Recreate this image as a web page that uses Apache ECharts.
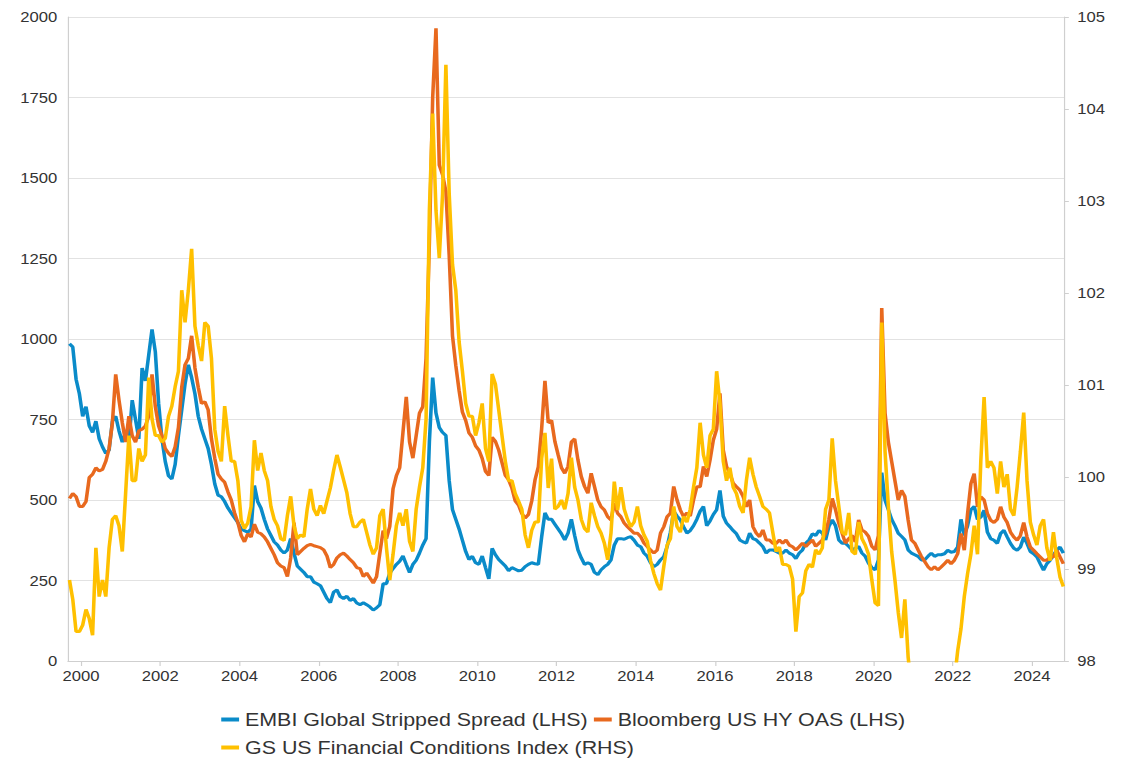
<!DOCTYPE html>
<html>
<head>
<meta charset="utf-8">
<title>EMBI spread, US HY OAS and GS FCI</title>
<script src="https://cdn.jsdelivr.net/npm/echarts@6/dist/echarts.min.js"></script>
<style>
  html, body { margin: 0; padding: 0; background: #fff; overflow: hidden; }
  /* the source picture is stretched sideways, so the chart is drawn narrower and widened */
  #chart { width: 947px; height: 762px; transform: scaleX(1.1901); transform-origin: 0 0; }
</style>
</head>
<body>
<div id="chart"></div>
<script>
// monthly readings, first point = Sep 1999, last = Oct 2024
const firstMonth = 1999 * 12 + 8;

// EMBI Global stripped spread, bp (LHS)
const embi = [
  985, 975, 875, 830,
  760, 790, 730, 710, 745, 690, 665, 645, 655, 745, 760, 715,
  680, 710, 680, 810, 750, 690, 910, 870, 950, 1030, 960, 800,
  690, 620, 575, 565, 610, 700, 780, 860, 920, 880, 830, 760,
  720, 690, 660, 610, 550, 515, 510, 495, 475, 460, 445, 430,
  410, 405, 400, 410, 545, 495, 475, 440, 410, 390, 370, 360,
  345, 335, 345, 380, 335, 295, 285, 275, 262, 262, 245, 240,
  234, 214, 194, 181, 214, 221, 200, 194, 201, 188, 194, 180,
  175, 181, 175, 168, 158, 165, 175, 240, 240, 273, 287, 300,
  310, 326, 300, 275, 300, 313, 335, 360, 380, 680, 880, 770,
  725, 710, 700, 560, 470, 440, 410, 375, 340, 315, 325, 305,
  300, 326, 290, 255, 350, 330, 315, 305, 295, 280, 290, 285,
  280, 282, 293, 300, 305, 302, 300, 385, 460, 440, 440, 425,
  410, 395, 376, 397, 440, 390, 345, 320, 300, 305, 300, 275,
  268, 283, 293, 300, 314, 360, 380, 380, 378, 383, 386, 375,
  360, 355, 335, 325, 305, 293, 300, 314, 324, 355, 400, 465,
  450, 438, 417, 397, 405, 420, 440, 465, 480, 420, 435, 455,
  470, 530, 450, 428, 417, 405, 395, 376, 370, 366, 397, 380,
  376, 366, 355, 335, 345, 345, 340, 335, 335, 345, 335, 330,
  318, 335, 345, 366, 376, 395, 390, 405, 397, 376, 418, 438,
  420, 376, 366, 366, 356, 345, 350, 356, 335, 325, 304, 290,
  283, 314, 585, 500, 470, 440, 420, 397, 387, 376, 345, 335,
  330, 325, 314, 314, 325, 335, 325, 330, 330, 333, 344, 338,
  340, 354, 440, 390, 420, 470, 480, 440, 447, 468, 400, 380,
  375, 365, 396, 406, 385, 365, 350, 344, 354, 385, 365, 340,
  333, 323, 302, 282, 302, 313, 330, 344, 354, 335
];

// Bloomberg US HY OAS, bp (LHS)
const hyOas = [
  505, 520, 510, 480,
  480, 495, 570, 580, 600, 590, 595, 620, 660, 740, 890, 810,
  740, 680, 760, 700, 680, 715, 720, 730, 760, 890, 790, 730,
  700, 660, 645, 635, 665, 725, 850, 920, 940, 1010, 910, 850,
  800, 805, 780, 690, 630, 580, 565, 555, 525, 500, 460, 430,
  390, 370, 395, 385, 425, 400, 395, 385, 370, 350, 330, 305,
  295, 290, 262, 320, 430, 330, 340, 350, 358, 362, 358, 355,
  352, 345, 326, 290, 300, 320, 330, 335, 326, 315, 305, 290,
  287, 262, 273, 258, 242, 262, 335, 405, 380, 418, 535, 575,
  600, 710, 820, 680, 630, 700, 770, 790, 940, 1300, 1750, 1965,
  1540, 1510, 1458, 1260, 1010, 918, 840, 773, 747, 708, 695, 668,
  655, 629, 589, 576, 695, 682, 655, 616, 576, 563, 537, 497,
  484, 458, 444, 455, 497, 563, 603, 721, 870, 740, 747, 682,
  640, 600, 583, 604, 680, 690, 624, 573, 542, 521, 583, 542,
  500, 479, 469, 448, 438, 490, 459, 448, 428, 417, 407, 397,
  397, 386, 366, 355, 345, 335, 345, 397, 417, 448, 459, 542,
  500, 469, 448, 460, 450, 500, 541, 541, 604, 573, 624, 686,
  720, 831, 655, 604, 583, 552, 541, 531, 511, 479, 500, 417,
  397, 386, 407, 376, 376, 366, 365, 376, 366, 376, 360, 355,
  345, 355, 366, 355, 366, 376, 356, 366, 376, 397, 440, 505,
  470, 428, 397, 366, 380, 390, 370, 438, 407, 400, 387, 356,
  345, 390, 1096, 770, 680, 620, 560, 500, 530, 511, 438, 376,
  366, 345, 325, 309, 293, 283, 293, 283, 292, 302, 313, 302,
  313, 333, 396, 344, 458, 551, 582, 479, 510, 500, 458, 437,
  430, 440, 479, 447, 430, 400, 385, 375, 390, 430, 385, 354,
  344, 333, 323, 313, 313, 323, 323, 344, 323, 302
];

// GS US Financial Conditions Index (RHS)
const gsFci = [
  98.88, 98.67, 98.32, 98.32,
  98.39, 98.56, 98.46, 98.28, 99.23, 98.70, 98.88, 98.70, 99.23, 99.54, 99.58, 99.47,
  99.19, 99.82, 100.45, 99.96, 99.96, 100.31, 100.17, 100.24, 101.08, 100.63, 100.45, 100.45,
  100.38, 100.42, 100.66, 100.77, 100.98, 101.15, 102.03, 101.68, 102.03, 102.48, 101.64, 101.43,
  101.26, 101.68, 101.64, 101.29, 100.52, 100.28, 100.17, 100.77, 100.45, 100.17, 100.17, 99.96,
  99.53, 99.44, 99.50, 99.68, 100.40, 100.07, 100.26, 100.07, 99.96, 99.68, 99.54, 99.47,
  99.33, 99.31, 99.58, 99.79, 99.47, 99.33, 99.37, 99.35, 99.65, 99.87, 99.65, 99.58,
  99.69, 99.60, 99.74, 99.88, 100.07, 100.24, 100.11, 99.97, 99.83, 99.60, 99.46, 99.46,
  99.51, 99.54, 99.40, 99.26, 99.16, 99.23, 99.58, 99.65, 99.23, 98.88, 99.16, 99.47,
  99.61, 99.47, 99.65, 99.30, 99.19, 99.65, 99.89, 100.10, 100.63, 102.90, 103.95, 102.90,
  102.38, 103.08, 104.48, 103.08, 102.31, 102.03, 101.47, 101.15, 100.80, 100.66, 100.66, 100.45,
  100.59, 100.80, 100.31, 100.17, 101.12, 101.01, 100.73, 100.45, 100.17, 99.96, 99.96, 99.82,
  99.74, 99.65, 99.37, 99.23, 99.42, 99.51, 99.51, 100.20, 100.48, 99.88, 100.20, 99.65,
  99.68, 99.75, 99.65, 99.82, 100.21, 99.89, 99.75, 99.54, 99.44, 99.40, 99.72, 99.58,
  99.46, 99.39, 99.28, 99.10, 99.39, 99.95, 99.64, 99.89, 99.65, 99.54, 99.46, 99.51,
  99.68, 99.47, 99.37, 99.30, 99.09, 98.95, 98.84, 98.77, 99.03, 99.26, 99.33, 99.68,
  99.46, 99.40, 99.57, 99.51, 99.65, 99.89, 100.10, 100.59, 100.24, 100.10, 100.45, 100.52,
  101.15, 100.80, 100.17, 99.96, 100.10, 99.89, 99.82, 99.68, 99.61, 99.96, 100.21, 100.03,
  99.89, 99.79, 99.68, 99.65, 99.61, 99.40, 99.19, 99.24, 99.05, 99.05, 99.03, 98.89,
  98.32, 98.70, 98.74, 98.98, 99.05, 99.02, 99.21, 99.16, 99.23, 99.65, 99.75, 100.42,
  99.96, 99.68, 99.40, 99.37, 99.61, 99.19, 99.16, 99.51, 99.33, 99.26, 99.16, 98.88,
  98.63, 98.60, 101.68, 100.28, 99.68, 99.19, 98.88, 98.53, 98.25, 98.67, 98.04, 97.72,
  97.30, 97.13, 96.95, 96.78, 96.78, 96.60, 96.60, 96.67, 96.78, 96.95, 97.13, 97.30,
  97.79, 98.11, 98.35, 98.70, 98.95, 99.16, 99.47, 99.16, 100.17, 100.87, 100.10, 100.17,
  100.10, 99.82, 100.17, 99.89, 100.03, 99.65, 99.58, 99.89, 100.28, 100.70, 99.96, 99.51,
  99.37, 99.26, 99.47, 99.54, 99.23, 99.09, 99.40, 99.12, 98.91, 98.81
];

const yearTicks = [2000, 2002, 2004, 2006, 2008, 2010, 2012, 2014, 2016, 2018, 2020, 2022, 2024];
const seriesNames = [
  'EMBI Global Stripped Spread (LHS)',
  'Bloomberg US HY OAS (LHS)',
  'GS US Financial Conditions Index (RHS)'
];
const colors = ['#0a8bc9', '#e8691e', '#ffc000'];

// month index -> decimal year at mid month
function toPoints(values) {
  return values.map((v, i) => [(firstMonth + i + 0.5) / 12, v]);
}

const font = "'Liberation Sans', Arial, sans-serif";
const chart = echarts.init(document.getElementById('chart'), null, { renderer: 'svg' });

chart.setOption({
  animation: false,
  color: colors,
  textStyle: { fontFamily: font },
  grid: { left: 57.1, right: 52.9, top: 17, bottom: 101 },
  legend: {
    left: 'center',
    top: 703,
    width: 600,
    itemWidth: 15,
    itemHeight: 4,
    itemGap: 5,
    icon: 'rect',
    textStyle: { fontSize: 18, color: '#333', fontFamily: font, lineHeight: 23 },
    data: seriesNames
  },
  xAxis: {
    type: 'value',
    min: 1999.67,
    max: 2024.81,
    splitLine: { show: false },
    axisLine: { lineStyle: { color: '#cfcfcf', width: 1 } },
    axisTick: { customValues: yearTicks, length: 5, lineStyle: { color: '#cfcfcf' } },
    axisLabel: {
      customValues: yearTicks,
      formatter: v => String(Math.round(v)),
      fontSize: 14, color: '#333', margin: 8
    }
  },
  yAxis: [
    {
      type: 'value',
      min: 0, max: 2000, interval: 250,
      axisLine: { show: true, lineStyle: { color: '#cfcfcf' } },
      axisTick: { show: false },
      splitLine: { lineStyle: { color: '#e2e2e2' } },
      axisLabel: { formatter: v => String(v), fontSize: 14, color: '#333', margin: 9 }
    },
    {
      type: 'value',
      position: 'right',
      min: 98, max: 105, interval: 1,
      axisLine: { show: true, lineStyle: { color: '#cfcfcf' } },
      axisTick: { show: true, length: 4, lineStyle: { color: '#cfcfcf' } },
      splitLine: { show: false },
      axisLabel: { formatter: v => String(v), fontSize: 14, color: '#333', margin: 11 }
    }
  ],
  series: [
    { name: seriesNames[0], type: 'line', yAxisIndex: 0, data: toPoints(embi) },
    { name: seriesNames[1], type: 'line', yAxisIndex: 0, data: toPoints(hyOas) },
    { name: seriesNames[2], type: 'line', yAxisIndex: 1, data: toPoints(gsFci) }
  ].map(s => Object.assign(s, {
    symbol: 'none',
    clip: true,
    lineStyle: { width: 3 }
  }))
});
</script>
</body>
</html>
